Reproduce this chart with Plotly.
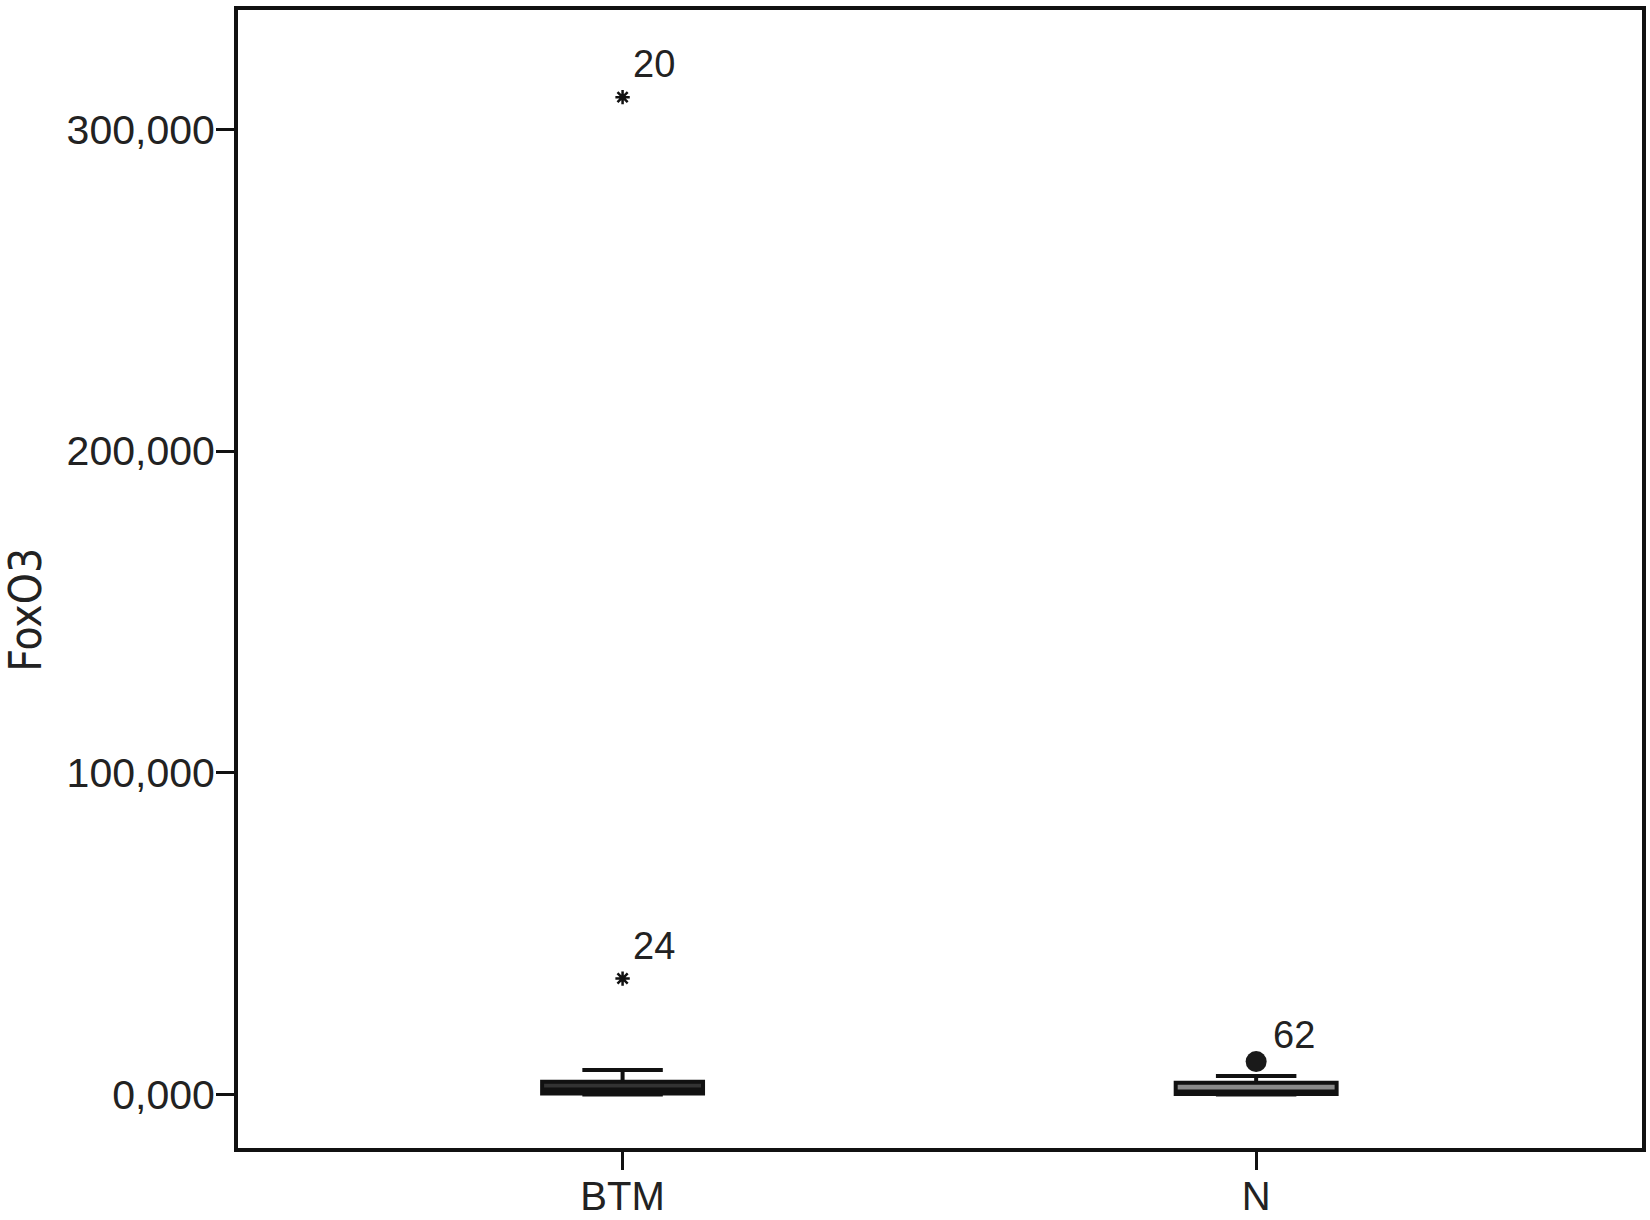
import plotly.graph_objects as go

# box summary per group (FoxO3 expression)
groups = ["BTM", "N"]
q1 = [300, 150]
medians = [1500, 900]
q3 = [3950, 3600]
lower_fence = [0, 0]
upper_fence = [7600, 5700]

# labelled outliers (case numbers)
outlier_group = ["BTM", "BTM", "N"]
outlier_value = [310000, 36000, 10200]
outlier_case = ["20", "24", "62"]
outlier_extreme = [True, True, False]

y_ticks = [0, 100000, 200000, 300000]
y_ticktext = ["0,000", "100,000", "200,000", "300,000"]

box_fill = {"BTM": "#333333", "N": "#8a8a8a"}

fig = go.Figure()

for i, g in enumerate(groups):
    fig.add_trace(go.Box(
        x=[g], q1=[q1[i]], median=[medians[i]], q3=[q3[i]],
        lowerfence=[lower_fence[i]], upperfence=[upper_fence[i]],
        width=0.254, whiskerwidth=0.5, boxpoints=False,
        fillcolor=box_fill[g], line=dict(color="#111", width=4),
        showlegend=False, hoverinfo="skip"
    ))

# extreme values (asterisks) and outliers (dots)
for g, v, c, ext in zip(outlier_group, outlier_value, outlier_case, outlier_extreme):
    if ext:
        marker = dict(symbol="asterisk-open", size=12, color="#111", line=dict(color="#111", width=2.5))
        dx, dy = 8, 33
    else:
        marker = dict(symbol="circle", size=21, color="#1a1a1a")
        dx, dy = 15, 27
    fig.add_trace(go.Scatter(x=[g], y=[v], mode="markers", marker=marker,
                             showlegend=False, hoverinfo="skip"))
    fig.add_annotation(x=g, y=v, xref="x", yref="y", text=c, showarrow=False,
                       xanchor="left", yanchor="middle", xshift=dx, yshift=dy,
                       font=dict(family="Liberation Sans, Arial", size=38, color="#222"))

# y axis title
fig.add_annotation(x=-0.151, y=0.473, xref="paper", yref="paper", text="FoxO3",
                   textangle=-90, showarrow=False, xanchor="center", yanchor="middle",
                   font=dict(family="Liberation Sans Narrow, DejaVu Sans Condensed, Liberation Sans",
                             size=44, color="#222"))

fig.update_layout(
    width=1650, height=1220,
    margin=dict(l=238, r=8, t=10, b=72, autoexpand=False),
    plot_bgcolor="white", paper_bgcolor="white",
    font=dict(family="Liberation Sans, Arial", color="#222"),
    xaxis=dict(
        type="category", range=[-0.607, 1.609], showgrid=False, zeroline=False,
        showline=True, linecolor="#111", linewidth=4, mirror=True,
        ticks="outside", ticklen=18, tickwidth=2.5, tickcolor="#111",
        ticklabelstandoff=-8, automargin=False,
        tickfont=dict(size=40, color="#222")
    ),
    yaxis=dict(
        range=[-16660, 337085], showgrid=False, zeroline=False,
        showline=True, linecolor="#111", linewidth=4, mirror=True,
        ticks="outside", ticklen=18, tickwidth=2.5, tickcolor="#111",
        tickvals=y_ticks, ticktext=y_ticktext, ticklabelstandoff=-7, automargin=False,
        tickfont=dict(size=41, color="#222")
    )
)

# drop the default page margin so the figure fills the window exactly
fig.write_html("out.html", config={"displayModeBar": False},
               post_script="document.body.style.margin='0';")
